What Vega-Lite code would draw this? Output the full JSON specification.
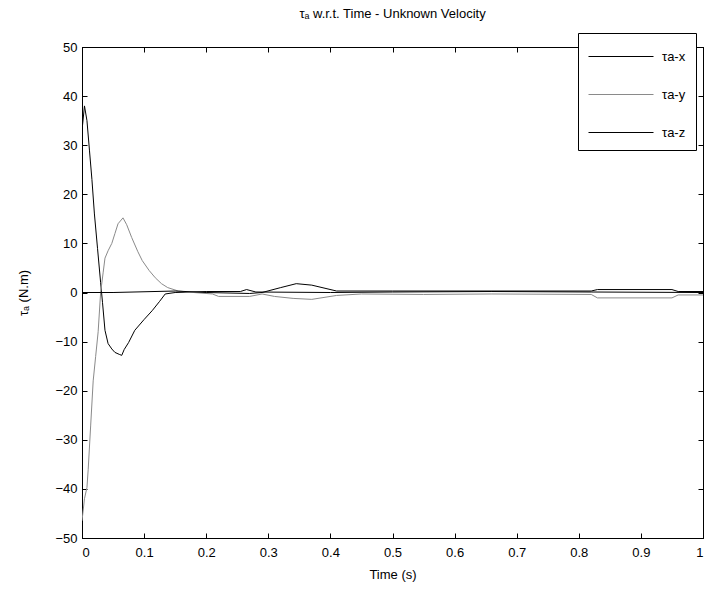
{
  "$schema": "https://vega.github.io/schema/vega-lite/v6.json",
  "width": 621,
  "height": 491,
  "padding": {"left": 82, "top": 47, "right": 2, "bottom": 58},
  "autosize": {"type": "none"},
  "background": "white",
  "config": {
    "font": "Liberation Sans",
    "view": {"stroke": "black", "strokeWidth": 1},
    "axis": {"labelFont": "Liberation Sans", "titleFont": "Liberation Sans", "labelFontSize": 13, "titleFontSize": 13, "titleFontWeight": "normal", "labelColor": "black", "titleColor": "black", "domainColor": "black", "tickColor": "black", "grid": false, "tickSize": -5, "labelPadding": 10}
  },
  "title": {"text": "τₐ w.r.t. Time - Unknown Velocity", "fontSize": 13, "fontWeight": "normal", "font": "Liberation Sans", "color": "black", "offset": 12},
  "data": {"values": [
    {"t": 0, "s": "τa-x", "v": 33}, {"t": 0.004, "s": "τa-x", "v": 38}, {"t": 0.008, "s": "τa-x", "v": 35}, {"t": 0.012, "s": "τa-x", "v": 29}, {"t": 0.016, "s": "τa-x", "v": 23}, {"t": 0.02, "s": "τa-x", "v": 16}, {"t": 0.025, "s": "τa-x", "v": 9}, {"t": 0.03, "s": "τa-x", "v": 2}, {"t": 0.033, "s": "τa-x", "v": -2}, {"t": 0.037, "s": "τa-x", "v": -7.7}, {"t": 0.042, "s": "τa-x", "v": -10.4}, {"t": 0.048, "s": "τa-x", "v": -11.5}, {"t": 0.053, "s": "τa-x", "v": -12.2}, {"t": 0.06, "s": "τa-x", "v": -12.6}, {"t": 0.064, "s": "τa-x", "v": -12.8}, {"t": 0.068, "s": "τa-x", "v": -11.6}, {"t": 0.075, "s": "τa-x", "v": -10.2}, {"t": 0.085, "s": "τa-x", "v": -7.7}, {"t": 0.1, "s": "τa-x", "v": -5.5}, {"t": 0.113, "s": "τa-x", "v": -3.7}, {"t": 0.125, "s": "τa-x", "v": -1.8}, {"t": 0.134, "s": "τa-x", "v": -0.3}, {"t": 0.15, "s": "τa-x", "v": 0}, {"t": 0.2, "s": "τa-x", "v": 0.2}, {"t": 0.255, "s": "τa-x", "v": 0.2}, {"t": 0.265, "s": "τa-x", "v": 0.6}, {"t": 0.28, "s": "τa-x", "v": 0.1}, {"t": 0.4, "s": "τa-x", "v": 0}, {"t": 0.5, "s": "τa-x", "v": 0.1}, {"t": 0.66, "s": "τa-x", "v": 0.2}, {"t": 0.82, "s": "τa-x", "v": 0.1}, {"t": 1, "s": "τa-x", "v": 0},
    {"t": 0, "s": "τa-y", "v": -46.5}, {"t": 0.004, "s": "τa-y", "v": -42}, {"t": 0.008, "s": "τa-y", "v": -39.7}, {"t": 0.01, "s": "τa-y", "v": -36}, {"t": 0.014, "s": "τa-y", "v": -27}, {"t": 0.018, "s": "τa-y", "v": -18}, {"t": 0.022, "s": "τa-y", "v": -13}, {"t": 0.026, "s": "τa-y", "v": -8}, {"t": 0.03, "s": "τa-y", "v": 0}, {"t": 0.034, "s": "τa-y", "v": 4}, {"t": 0.037, "s": "τa-y", "v": 7}, {"t": 0.042, "s": "τa-y", "v": 8.5}, {"t": 0.048, "s": "τa-y", "v": 10}, {"t": 0.053, "s": "τa-y", "v": 12}, {"t": 0.058, "s": "τa-y", "v": 14}, {"t": 0.066, "s": "τa-y", "v": 15.2}, {"t": 0.072, "s": "τa-y", "v": 13.8}, {"t": 0.08, "s": "τa-y", "v": 11.2}, {"t": 0.09, "s": "τa-y", "v": 8.3}, {"t": 0.097, "s": "τa-y", "v": 6.5}, {"t": 0.108, "s": "τa-y", "v": 4.5}, {"t": 0.118, "s": "τa-y", "v": 3}, {"t": 0.128, "s": "τa-y", "v": 1.8}, {"t": 0.138, "s": "τa-y", "v": 1}, {"t": 0.155, "s": "τa-y", "v": 0.3}, {"t": 0.18, "s": "τa-y", "v": 0}, {"t": 0.21, "s": "τa-y", "v": -0.3}, {"t": 0.22, "s": "τa-y", "v": -0.8}, {"t": 0.27, "s": "τa-y", "v": -0.8}, {"t": 0.29, "s": "τa-y", "v": -0.3}, {"t": 0.31, "s": "τa-y", "v": -0.8}, {"t": 0.34, "s": "τa-y", "v": -1.2}, {"t": 0.37, "s": "τa-y", "v": -1.4}, {"t": 0.41, "s": "τa-y", "v": -0.6}, {"t": 0.45, "s": "τa-y", "v": -0.3}, {"t": 0.55, "s": "τa-y", "v": -0.4}, {"t": 0.66, "s": "τa-y", "v": -0.3}, {"t": 0.82, "s": "τa-y", "v": -0.4}, {"t": 0.83, "s": "τa-y", "v": -1.1}, {"t": 0.95, "s": "τa-y", "v": -1.1}, {"t": 0.96, "s": "τa-y", "v": -0.5}, {"t": 1, "s": "τa-y", "v": -0.5},
    {"t": 0, "s": "τa-z", "v": 0}, {"t": 0.05, "s": "τa-z", "v": 0}, {"t": 0.15, "s": "τa-z", "v": 0.3}, {"t": 0.2, "s": "τa-z", "v": 0}, {"t": 0.27, "s": "τa-z", "v": -0.2}, {"t": 0.29, "s": "τa-z", "v": 0}, {"t": 0.32, "s": "τa-z", "v": 1.0}, {"t": 0.345, "s": "τa-z", "v": 1.8}, {"t": 0.37, "s": "τa-z", "v": 1.5}, {"t": 0.41, "s": "τa-z", "v": 0.3}, {"t": 0.5, "s": "τa-z", "v": 0.3}, {"t": 0.82, "s": "τa-z", "v": 0.3}, {"t": 0.83, "s": "τa-z", "v": 0.6}, {"t": 0.95, "s": "τa-z", "v": 0.6}, {"t": 0.96, "s": "τa-z", "v": 0.2}, {"t": 1, "s": "τa-z", "v": 0.2}
  ]},
  "layer": [
    {
      "mark": {"type": "line", "clip": true},
      "encoding": {
        "x": {"field": "t", "type": "quantitative", "scale": {"domain": [0, 1], "nice": false, "zero": false}, "axis": {"title": "Time (s)", "values": [0, 0.1, 0.2, 0.3, 0.4, 0.5, 0.6, 0.7, 0.8, 0.9, 1], "labelExpr": "datum.value == 0 ? '0' : datum.value == 1 ? '1' : format(datum.value, '.1f')", "labelPadding": 13, "titlePadding": 9}},
        "y": {"field": "v", "type": "quantitative", "scale": {"domain": [-50, 50], "nice": false}, "axis": {"title": "τₐ (N.m)", "values": [-50, -40, -30, -20, -10, 0, 10, 20, 30, 40, 50], "titlePadding": 24}},
        "color": {"field": "s", "type": "nominal", "scale": {"domain": ["τa-x", "τa-y", "τa-z"], "range": ["black", "#8a8a8a", "black"]}, "legend": {"title": null, "orient": "none", "legendX": 496, "legendY": -14, "direction": "vertical", "symbolType": "M-2.5,0H2.5", "symbolSize": 676, "symbolOffset": 19.5, "symbolOpacity": 1, "symbolStrokeWidth": 1.2, "labelFont": "Liberation Sans", "labelFontSize": 13, "labelColor": "black", "strokeColor": "black", "fillColor": "white", "padding": 10, "rowPadding": 17, "labelOffset": 27.5}},
        "strokeWidth": {"field": "s", "type": "nominal", "scale": {"domain": ["τa-x", "τa-y", "τa-z"], "range": [1, 1, 1.6]}, "legend": null}
      }
    },
    {
      "mark": {"type": "line", "strokeOpacity": 0},
      "encoding": {
        "x": {"field": "t", "type": "quantitative", "axis": {"orient": "top", "title": null, "labels": false, "values": [0, 0.1, 0.2, 0.3, 0.4, 0.5, 0.6, 0.7, 0.8, 0.9, 1]}},
        "y": {"field": "v", "type": "quantitative", "axis": {"orient": "right", "title": null, "labels": false, "values": [-50, -40, -30, -20, -10, 0, 10, 20, 30, 40, 50]}},
        "detail": {"field": "s"}
      }
    }
  ],
  "resolve": {"axis": {"x": "independent", "y": "independent"}}
}
